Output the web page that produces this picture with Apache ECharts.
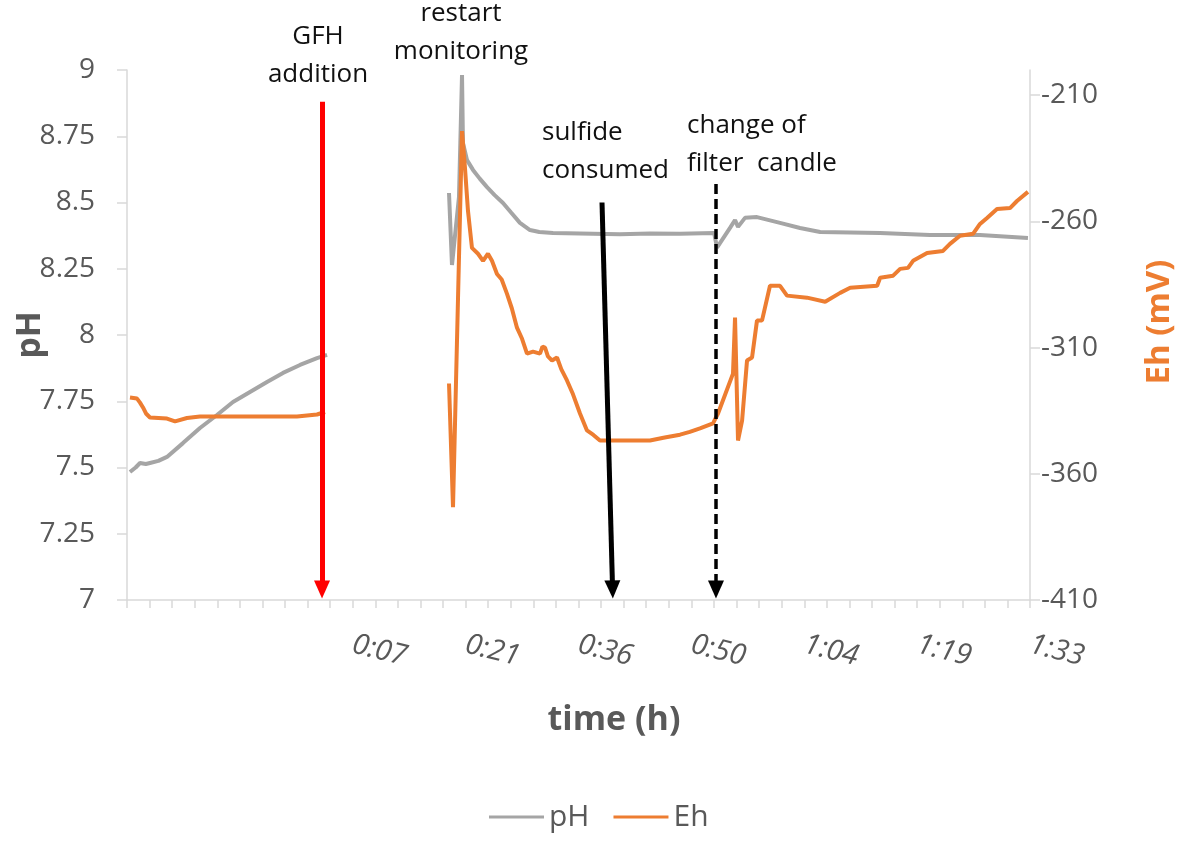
<!DOCTYPE html>
<html>
<head>
<meta charset="utf-8">
<script src="https://cdn.jsdelivr.net/npm/echarts@6/dist/echarts.min.js"></script>
<style>
  html, body { margin: 0; padding: 0; background: #ffffff; }
  #chart { width: 1180px; height: 841px; }
</style>
</head>
<body>
<div id="chart"></div>
<script>
// ---- data (time in minutes after start; pH; Eh in mV) ----
const phPart1 = [
  [-21.22, 7.483], [-20.5, 7.500], [-19.94, 7.517], [-19.2, 7.513], [-18.67, 7.517],
  [-17.6, 7.525], [-16.5, 7.540], [-14.46, 7.592], [-12.29, 7.649], [-10.12, 7.698],
  [-8.08, 7.747], [-5.91, 7.785], [-3.74, 7.823], [-1.70, 7.857], [0.47, 7.887],
  [2.64, 7.913], [3.92, 7.925]
];
const phPart2 = [
  [19.48, 8.536], [19.86, 8.264], [20.75, 8.520], [21.14, 8.981], [21.26, 8.725],
  [21.78, 8.660], [22.54, 8.623], [23.40, 8.590], [24.33, 8.558], [25.30, 8.528],
  [26.37, 8.498], [27.40, 8.462], [28.53, 8.423], [29.81, 8.396], [31.00, 8.389],
  [32.75, 8.385], [41.29, 8.380], [45.12, 8.383], [48.95, 8.382],
  [53.30, 8.385], [53.67, 8.330], [55.33, 8.404], [55.97, 8.434], [56.35, 8.408],
  [57.24, 8.442], [58.77, 8.445], [61.71, 8.423], [64.26, 8.404], [66.83, 8.389],
  [74.48, 8.385], [80.84, 8.377], [87.22, 8.377], [93.34, 8.366]
];
const ehPart1 = [
  [-21.22, -329.8], [-20.32, -330.2], [-19.94, -331.8], [-19.56, -333.7], [-19.18, -336.1],
  [-18.67, -337.7], [-16.50, -338.1], [-15.47, -339.2], [-13.95, -337.9], [-12.29, -337.3],
  [0.09, -337.3], [2.64, -336.5], [3.66, -335.5]
];
const ehPart2 = [
  [19.48, -324.2], [19.73, -324.2], [19.99, -373.2], [21.14, -224.2], [21.52, -238.9],
  [21.90, -255.8], [22.41, -270.5], [23.18, -272.8], [23.82, -275.6], [24.45, -272.8],
  [24.96, -275.6], [25.60, -280.8], [26.20, -283.0], [26.88, -288.7], [27.50, -294.5],
  [28.15, -302.1], [28.80, -306.5], [29.43, -312.4], [30.20, -311.6], [31.09, -312.4],
  [31.40, -309.6], [31.73, -310.0], [32.10, -313.5], [32.62, -315.1], [33.26, -313.9],
  [33.80, -318.5], [34.53, -323.0], [35.30, -328.5], [36.19, -336.1], [37.08, -342.8],
  [37.90, -344.6], [38.74, -346.8], [45.12, -346.8], [47.00, -345.6], [48.95, -344.5],
  [50.20, -343.4], [51.50, -342.0], [53.16, -340.0], [53.80, -336.1], [55.71, -320.3],
  [55.97, -298.1], [56.35, -346.8], [56.87, -338.9], [57.50, -315.1], [58.14, -313.9],
  [58.77, -299.3], [59.41, -299.3], [60.43, -285.5], [61.71, -285.5], [62.60, -289.4],
  [65.15, -290.2], [67.47, -291.8], [69.38, -288.3], [70.66, -286.3], [74.10, -285.5],
  [74.48, -282.3], [76.14, -281.5], [77.03, -278.8], [78.04, -278.4], [78.68, -275.6],
  [80.47, -272.5], [82.50, -271.7], [83.39, -268.9], [84.67, -265.7], [86.33, -264.9],
  [87.22, -261.0], [88.12, -258.6], [89.39, -255.1], [91.05, -254.7], [91.94, -251.9],
  [93.34, -248.3]
];

// ---- axes ----
const xMin = -21.6, xMax = 93.6, xMinorStep = 2.88;
const xTickValues = [7.2, 21.6, 36, 50.4, 64.8, 79.2, 93.6];
const xTickLabels = ['0:07', '0:21', '0:36', '0:50', '1:04', '1:19', '1:33'];
const phTicks = [7, 7.25, 7.5, 7.75, 8, 8.25, 8.5, 8.75, 9];
const ehTicks = [-410, -360, -310, -260, -210];

// ---- annotation arrows: [x1, pH1, x2, pH2] ----
const gfhArrow = [3.28, 8.88, 3.28, 7.04];
const sulfideArrow = [39.0, 8.50, 40.35, 7.04];
const filterArrow = [53.54, 8.57, 53.54, 7.04];

const minorTicks = [];
for (let i = 0; i <= Math.round((xMax - xMin) / xMinorStep); i++) {
  minorTicks.push(+(xMin + i * xMinorStep).toFixed(3));
}

const gap = [[10, null]];
const FONT = 'Open Sans';
const AXIS_GRAY = '#D9D9D9';
const TXT = '#595959';

function arrowItem(a, color, width, type) {
  return [
    { coord: [a[0], a[1]], symbol: 'none',
      lineStyle: { color: color, width: width, type: type } },
    { coord: [a[2], a[3]], symbol: 'triangle', symbolSize: [16, 18] }
  ];
}

const chart = echarts.init(document.getElementById('chart'), null, { renderer: 'canvas' });
chart.setOption({
  animation: false,
  backgroundColor: '#ffffff',
  grid: { left: 127, right: 150, top: 70, bottom: 241, containLabel: false },
  legend: {
    data: [{ name: 'pH', icon: 'rect' }, { name: 'Eh', icon: 'rect' }],
    left: 484, top: 797,
    itemWidth: 55, itemHeight: 3, itemGap: 24,
    textStyle: { fontFamily: FONT, fontSize: 30, color: TXT }
  },
  xAxis: {
    type: 'value', min: xMin, max: xMax,
    axisLine: { show: true, onZero: false, lineStyle: { color: AXIS_GRAY, width: 1.5 } },
    axisTick: { show: true, customValues: minorTicks, length: 8, lineStyle: { color: AXIS_GRAY, width: 1.5 } },
    axisLabel: {
      customValues: xTickValues,
      formatter: function (v) {
        const i = xTickValues.findIndex(t => Math.abs(t - v) < 1e-6);
        return i >= 0 ? xTickLabels[i] : '';
      },
      rotate: -14, margin: 44,
      fontFamily: FONT, fontStyle: 'italic', fontSize: 29, color: TXT
    },
    splitLine: { show: false }
  },
  yAxis: [
    {
      type: 'value', min: 7, max: 9, position: 'left',
      axisLine: { show: true, onZero: false, lineStyle: { color: AXIS_GRAY, width: 1.5 } },
      axisTick: { show: true, customValues: phTicks, length: 10, lineStyle: { color: AXIS_GRAY, width: 1.5 } },
      axisLabel: { customValues: phTicks, margin: 32, fontFamily: FONT, fontSize: 28, color: TXT },
      splitLine: { show: false }
    },
    {
      type: 'value', min: -410, max: -200, position: 'right',
      axisLine: { show: true, onZero: false, lineStyle: { color: AXIS_GRAY, width: 1.5 } },
      axisTick: { show: true, customValues: ehTicks, length: 10, lineStyle: { color: AXIS_GRAY, width: 1.5 } },
      axisLabel: { customValues: ehTicks, margin: 11, fontFamily: FONT, fontSize: 28, color: TXT },
      splitLine: { show: false }
    }
  ],
  series: [
    {
      name: 'pH', type: 'line', yAxisIndex: 0, showSymbol: false, symbol: 'none',
      connectNulls: false,
      lineStyle: { color: '#A5A5A5', width: 4 }, itemStyle: { color: '#A5A5A5' },
      data: phPart1.concat(gap, phPart2),
      markLine: {
        silent: true, animation: false, z: 10,
        label: { show: false },
        emphasis: { disabled: true },
        data: [
          arrowItem(gfhArrow, '#FF0000', 5, 'solid'),
          arrowItem(sulfideArrow, '#000000', 5, 'solid'),
          arrowItem(filterArrow, '#000000', 3.5, [10, 5])
        ]
      }
    },
    {
      name: 'Eh', type: 'line', yAxisIndex: 1, showSymbol: false, symbol: 'none',
      connectNulls: false,
      lineStyle: { color: '#ED7D31', width: 4 }, itemStyle: { color: '#ED7D31' },
      data: ehPart1.concat(gap, ehPart2)
    }
  ],
  graphic: [
    { type: 'text', x: 30, y: 335, rotation: Math.PI / 2,
      style: { text: 'pH', font: 'bold 34px "Open Sans"', fill: TXT, align: 'center', verticalAlign: 'middle' } },
    { type: 'text', x: 1160, y: 322, rotation: Math.PI / 2,
      style: { text: 'Eh (mV)', font: 'bold 33px "Open Sans"', fill: '#ED7D31', align: 'center', verticalAlign: 'middle' } },
    { type: 'text', x: 614, y: 720,
      style: { text: 'time (h)', font: 'bold 34px "Open Sans"', fill: TXT, align: 'center', verticalAlign: 'middle' } },
    { type: 'text', x: 318, y: 56,
      style: { text: 'GFH\naddition', font: '26px "Open Sans"', lineHeight: 38, fill: '#111111', align: 'center', verticalAlign: 'middle' } },
    { type: 'text', x: 461, y: 33,
      style: { text: 'restart\nmonitoring', font: '26px "Open Sans"', lineHeight: 38, fill: '#111111', align: 'center', verticalAlign: 'middle' } },
    { type: 'text', x: 542, y: 152,
      style: { text: 'sulfide\nconsumed', font: '26px "Open Sans"', lineHeight: 38, fill: '#111111', align: 'left', verticalAlign: 'middle' } },
    { type: 'text', x: 687, y: 145,
      style: { text: 'change of\nfilter  candle', font: '26px "Open Sans"', lineHeight: 38, fill: '#111111', align: 'left', verticalAlign: 'middle' } }
  ]
});
</script>
</body>
</html>
